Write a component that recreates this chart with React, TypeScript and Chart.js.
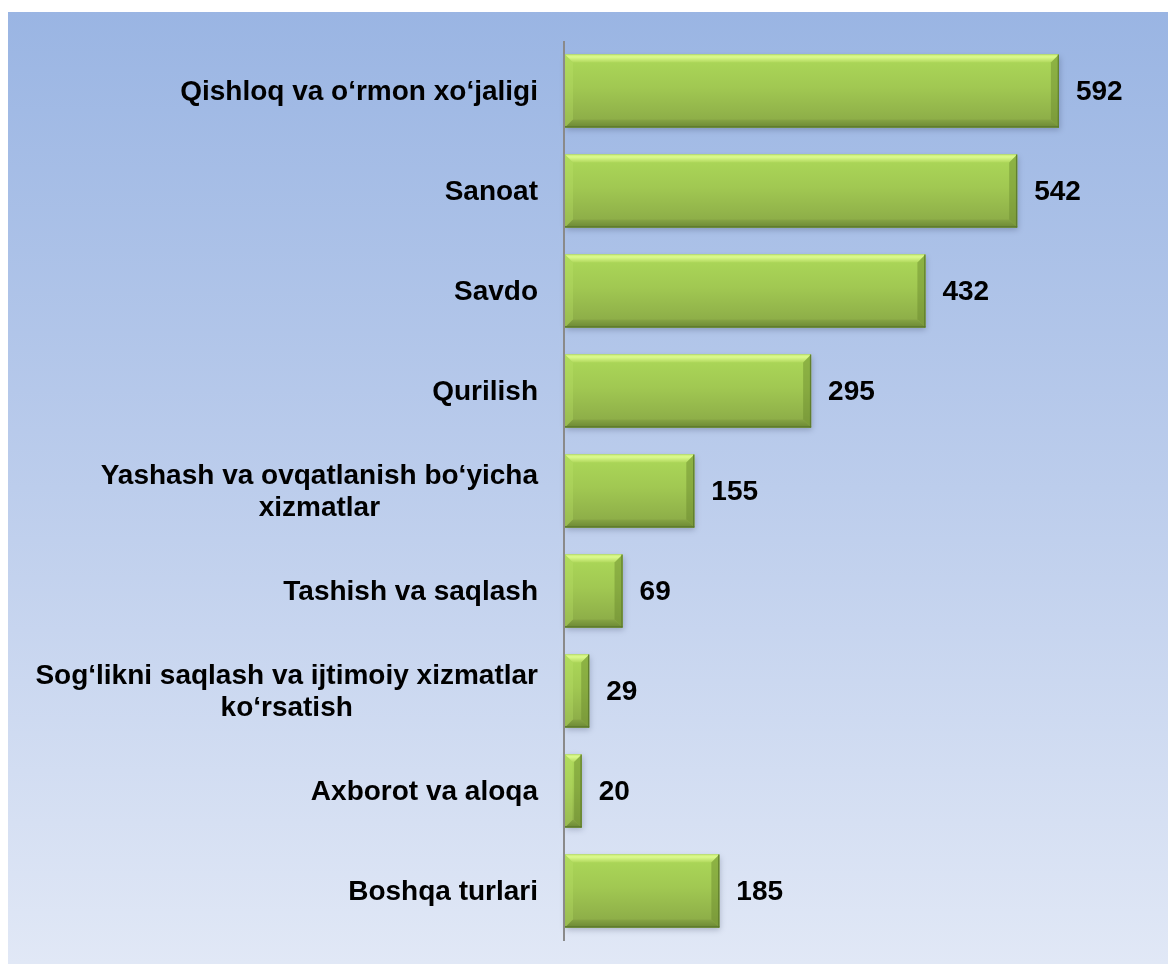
import React, { useEffect, useRef } from "react";
import { Chart, registerables } from "chart.js";

Chart.register(...registerables);

const categories: (string | string[])[] = [
  "Qishloq va o‘rmon xo‘jaligi",
  "Sanoat",
  "Savdo",
  "Qurilish",
  ["Yashash va ovqatlanish bo‘yicha", "xizmatlar"],
  "Tashish va saqlash",
  ["Sog‘likni saqlash va ijtimoiy xizmatlar", "ko‘rsatish"],
  "Axborot va aloqa",
  "Boshqa turlari",
];

const values: number[] = [592, 542, 432, 295, 155, 69, 29, 20, 185];

const axisMax = 700;
const FONT = "bold 28px 'Liberation Sans', Arial, sans-serif";

const decorPlugin = {
  id: "decor",
  beforeDraw(chart: any) {
    const { ctx, width, height } = chart;
    ctx.save();
    const g = ctx.createLinearGradient(0, 0, 0, height);
    g.addColorStop(0, "#9ab5e3");
    g.addColorStop(0.5, "#bccdec");
    g.addColorStop(1, "#e1e8f6");
    ctx.fillStyle = g;
    ctx.fillRect(0, 0, width, height);
    ctx.restore();
  },
  afterDatasetsDraw(chart: any) {
    const { ctx } = chart;
    const meta = chart.getDatasetMeta(0);
    meta.data.forEach((bar: any, i: number) => {
      const p = bar.getProps(["x", "y", "base", "height"], true);
      const left = Math.min(p.base, p.x);
      const right = Math.max(p.base, p.x);
      const top = p.y - p.height / 2;
      const bottom = p.y + p.height / 2;
      const w = right - left;
      const h = bottom - top;
      const b = Math.min(8, w / 2.2, h / 2.2);
      ctx.save();
      ctx.shadowColor = "rgba(40,50,80,0.28)";
      ctx.shadowBlur = 6;
      ctx.shadowOffsetX = 1;
      ctx.shadowOffsetY = 2;
      const fg = ctx.createLinearGradient(0, top, 0, bottom);
      fg.addColorStop(0, "#acd959");
      fg.addColorStop(0.45, "#a1c852");
      fg.addColorStop(1, "#89a846");
      ctx.fillStyle = fg;
      ctx.fillRect(left, top, w, h);
      ctx.shadowColor = "transparent";
      ctx.shadowBlur = 0;
      ctx.shadowOffsetX = 0;
      ctx.shadowOffsetY = 0;
      const poly = (pts: number[][], fill: any) => {
        ctx.beginPath();
        ctx.moveTo(pts[0][0], pts[0][1]);
        for (let k = 1; k < pts.length; k++) ctx.lineTo(pts[k][0], pts[k][1]);
        ctx.closePath();
        ctx.fillStyle = fill;
        ctx.fill();
      };
      const tg = ctx.createLinearGradient(0, top, 0, top + b);
      tg.addColorStop(0, "#c9ec73");
      tg.addColorStop(0.3, "#dcfa8e");
      tg.addColorStop(1, "#b0d85c");
      poly([[left, top], [right, top], [right - b, top + b], [left + b, top + b]], tg);
      poly([[left, top], [left + b, top + b], [left + b, bottom - b], [left, bottom]], "rgba(190,228,105,0.3)");
      poly([[right, top], [right, bottom], [right - b, bottom - b], [right - b, top + b]], "rgba(105,135,45,0.45)");
      const bg = ctx.createLinearGradient(0, bottom - b, 0, bottom);
      bg.addColorStop(0, "#86a444");
      bg.addColorStop(1, "#6b8834");
      poly([[left, bottom], [right, bottom], [right - b, bottom - b], [left + b, bottom - b]], bg);
      ctx.fillStyle = "#5f7c2e";
      ctx.fillRect(left, bottom - 1.5, w, 1.5);
      ctx.fillStyle = "rgba(90,120,42,0.85)";
      ctx.fillRect(right - 1.2, top, 1.2, h);
      ctx.restore();

      ctx.save();
      ctx.font = FONT;
      ctx.fillStyle = "#000000";
      ctx.textAlign = "left";
      ctx.textBaseline = "middle";
      ctx.fillText(String(values[i]), right + 17, p.y + 1);
      ctx.restore();
    });
  },
  afterDraw(chart: any) {
    const { ctx, chartArea } = chart;
    const yScale = chart.scales.y;
    ctx.save();
    ctx.strokeStyle = "#8a8a8a";
    ctx.lineWidth = 2;
    ctx.beginPath();
    ctx.moveTo(chartArea.left - 1, chartArea.top);
    ctx.lineTo(chartArea.left - 1, chartArea.bottom);
    ctx.stroke();
    ctx.font = FONT;
    ctx.fillStyle = "#000000";
    ctx.textAlign = "center";
    ctx.textBaseline = "middle";
    const rightX = chartArea.left - 27;
    const lineH = 32;
    categories.forEach((lab, i) => {
      const lines = Array.isArray(lab) ? lab : [lab];
      const maxW = Math.max(...lines.map((l) => ctx.measureText(l).width));
      const cx = rightX - maxW / 2;
      const cy = yScale.getPixelForValue(i);
      lines.forEach((l, k) => {
        const ly = cy + (k - (lines.length - 1) / 2) * lineH;
        ctx.fillText(l, cx, ly + 1);
      });
    });
    ctx.restore();
  },
};

export default function App() {
  const ref = useRef<HTMLCanvasElement | null>(null);
  useEffect(() => {
    if (!ref.current) return;
    const chart = new Chart(ref.current, {
      type: "bar",
      data: {
        labels: categories as any,
        datasets: [
          {
            data: values,
            backgroundColor: "#a1c752",
            borderWidth: 0,
            barPercentage: 0.73,
            categoryPercentage: 1,
          },
        ],
      },
      options: {
        indexAxis: "y",
        responsive: false,
        maintainAspectRatio: false,
        animation: false,
        layout: { padding: { left: 557, right: 19, top: 29, bottom: 23 } },
        scales: {
          x: { display: false, min: 0, max: axisMax },
          y: { display: false },
        },
        plugins: {
          legend: { display: false },
          tooltip: { enabled: false },
        },
      },
      plugins: [decorPlugin],
    });
    return () => chart.destroy();
  }, []);
  return (
    <div style={{ position: "fixed", left: 8, top: 12, width: 1160, height: 952 }}>
      <canvas ref={ref} width={1160} height={952} style={{ display: "block", width: 1160, height: 952 }} />
    </div>
  );
}
